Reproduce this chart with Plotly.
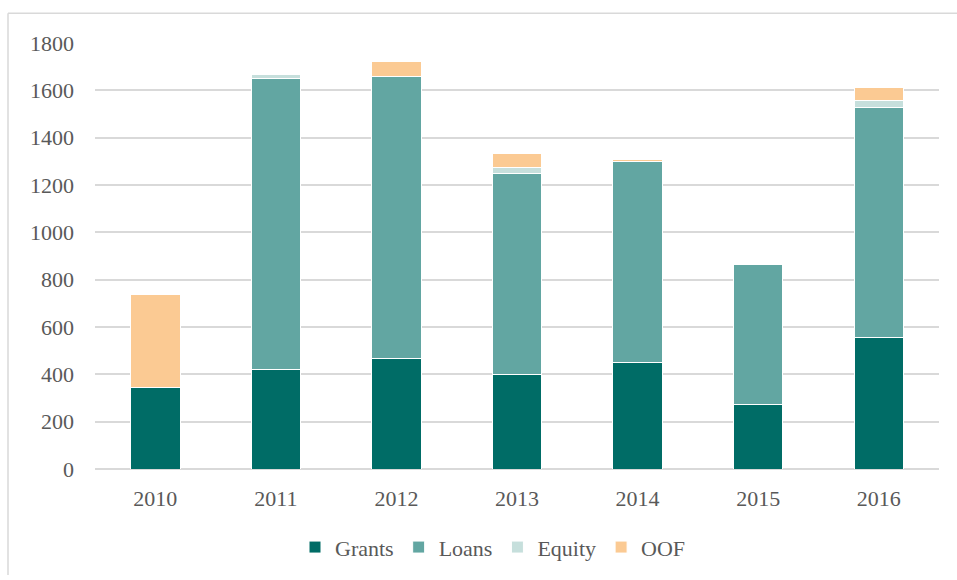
import plotly.graph_objects as go

years = ["2010", "2011", "2012", "2013", "2014", "2015", "2016"]
grants = [346, 421, 468, 400, 451, 271, 555]
loans = [0, 1227, 1190, 849, 848, 591, 973]
equity = [0, 21, 0, 25, 0, 7, 28]
oof = [391, 0, 62, 60, 10, 0, 55]

series = [
    ("Grants", grants, "#006C66"),
    ("Loans", loans, "#62A6A2"),
    ("Equity", equity, "#C6DFDC"),
    ("OOF", oof, "#FBCA93"),
]

font_family = "Liberation Serif"

fig = go.Figure()
for name, vals, col in series:
    fig.add_trace(go.Bar(
        x=years, y=vals, name=name,
        marker=dict(color=col, line=dict(color="white", width=1)),
    ))

W, H = 957, 580
# target screen coords of plot area: x 95..939, y 43..473
L, T = 95, 43
R = 957 - 939
B = 580 - 473
pw = W - L - R
ph = H - T - B

def px(xs):
    return (xs - L) / pw

def py(ys):
    return (T + ph - ys) / ph

border = dict(color="#D9D9D9", width=1.5)

fig.update_layout(
    width=W, height=H,
    barmode="stack",
    bargap=0.59,
    plot_bgcolor="white",
    paper_bgcolor="white",
    margin=dict(l=L, r=R, t=T, b=B),
    font=dict(family=font_family, size=22, color="#595959"),
    showlegend=True,
    legend=dict(
        orientation="h", x=px(493), xanchor="center",
        y=py(552), yanchor="middle",
        font=dict(family=font_family, size=22, color="#595959"),
        itemwidth=30, traceorder="normal",
    ),
    xaxis=dict(
        showgrid=False, showline=False, ticks="",
        tickfont=dict(family=font_family, size=22, color="#595959"),
        ticklabelstandoff=14,
    ),
    yaxis=dict(
        range=[0, 1800], dtick=200,
        showgrid=True, gridcolor="#D9D9D9", gridwidth=1.5,
        zeroline=True, zerolinecolor="#D9D9D9", zerolinewidth=1.5,
        showline=False, ticks="",
        tickfont=dict(family=font_family, size=22, color="#595959"),
        ticklabelstandoff=20,
    ),
    shapes=[
        dict(type="line", xref="paper", yref="paper",
             x0=px(8), x1=px(957), y0=py(13), y1=py(13),
             line=border, layer="below"),
        dict(type="line", xref="paper", yref="paper",
             x0=px(8), x1=px(8), y0=py(13), y1=py(580),
             line=border, layer="below"),
    ],
)

fig.write_html(
    "out.html",
    config={"displayModeBar": False},
    post_script="document.body.style.margin='0';document.body.style.overflow='hidden';",
)
